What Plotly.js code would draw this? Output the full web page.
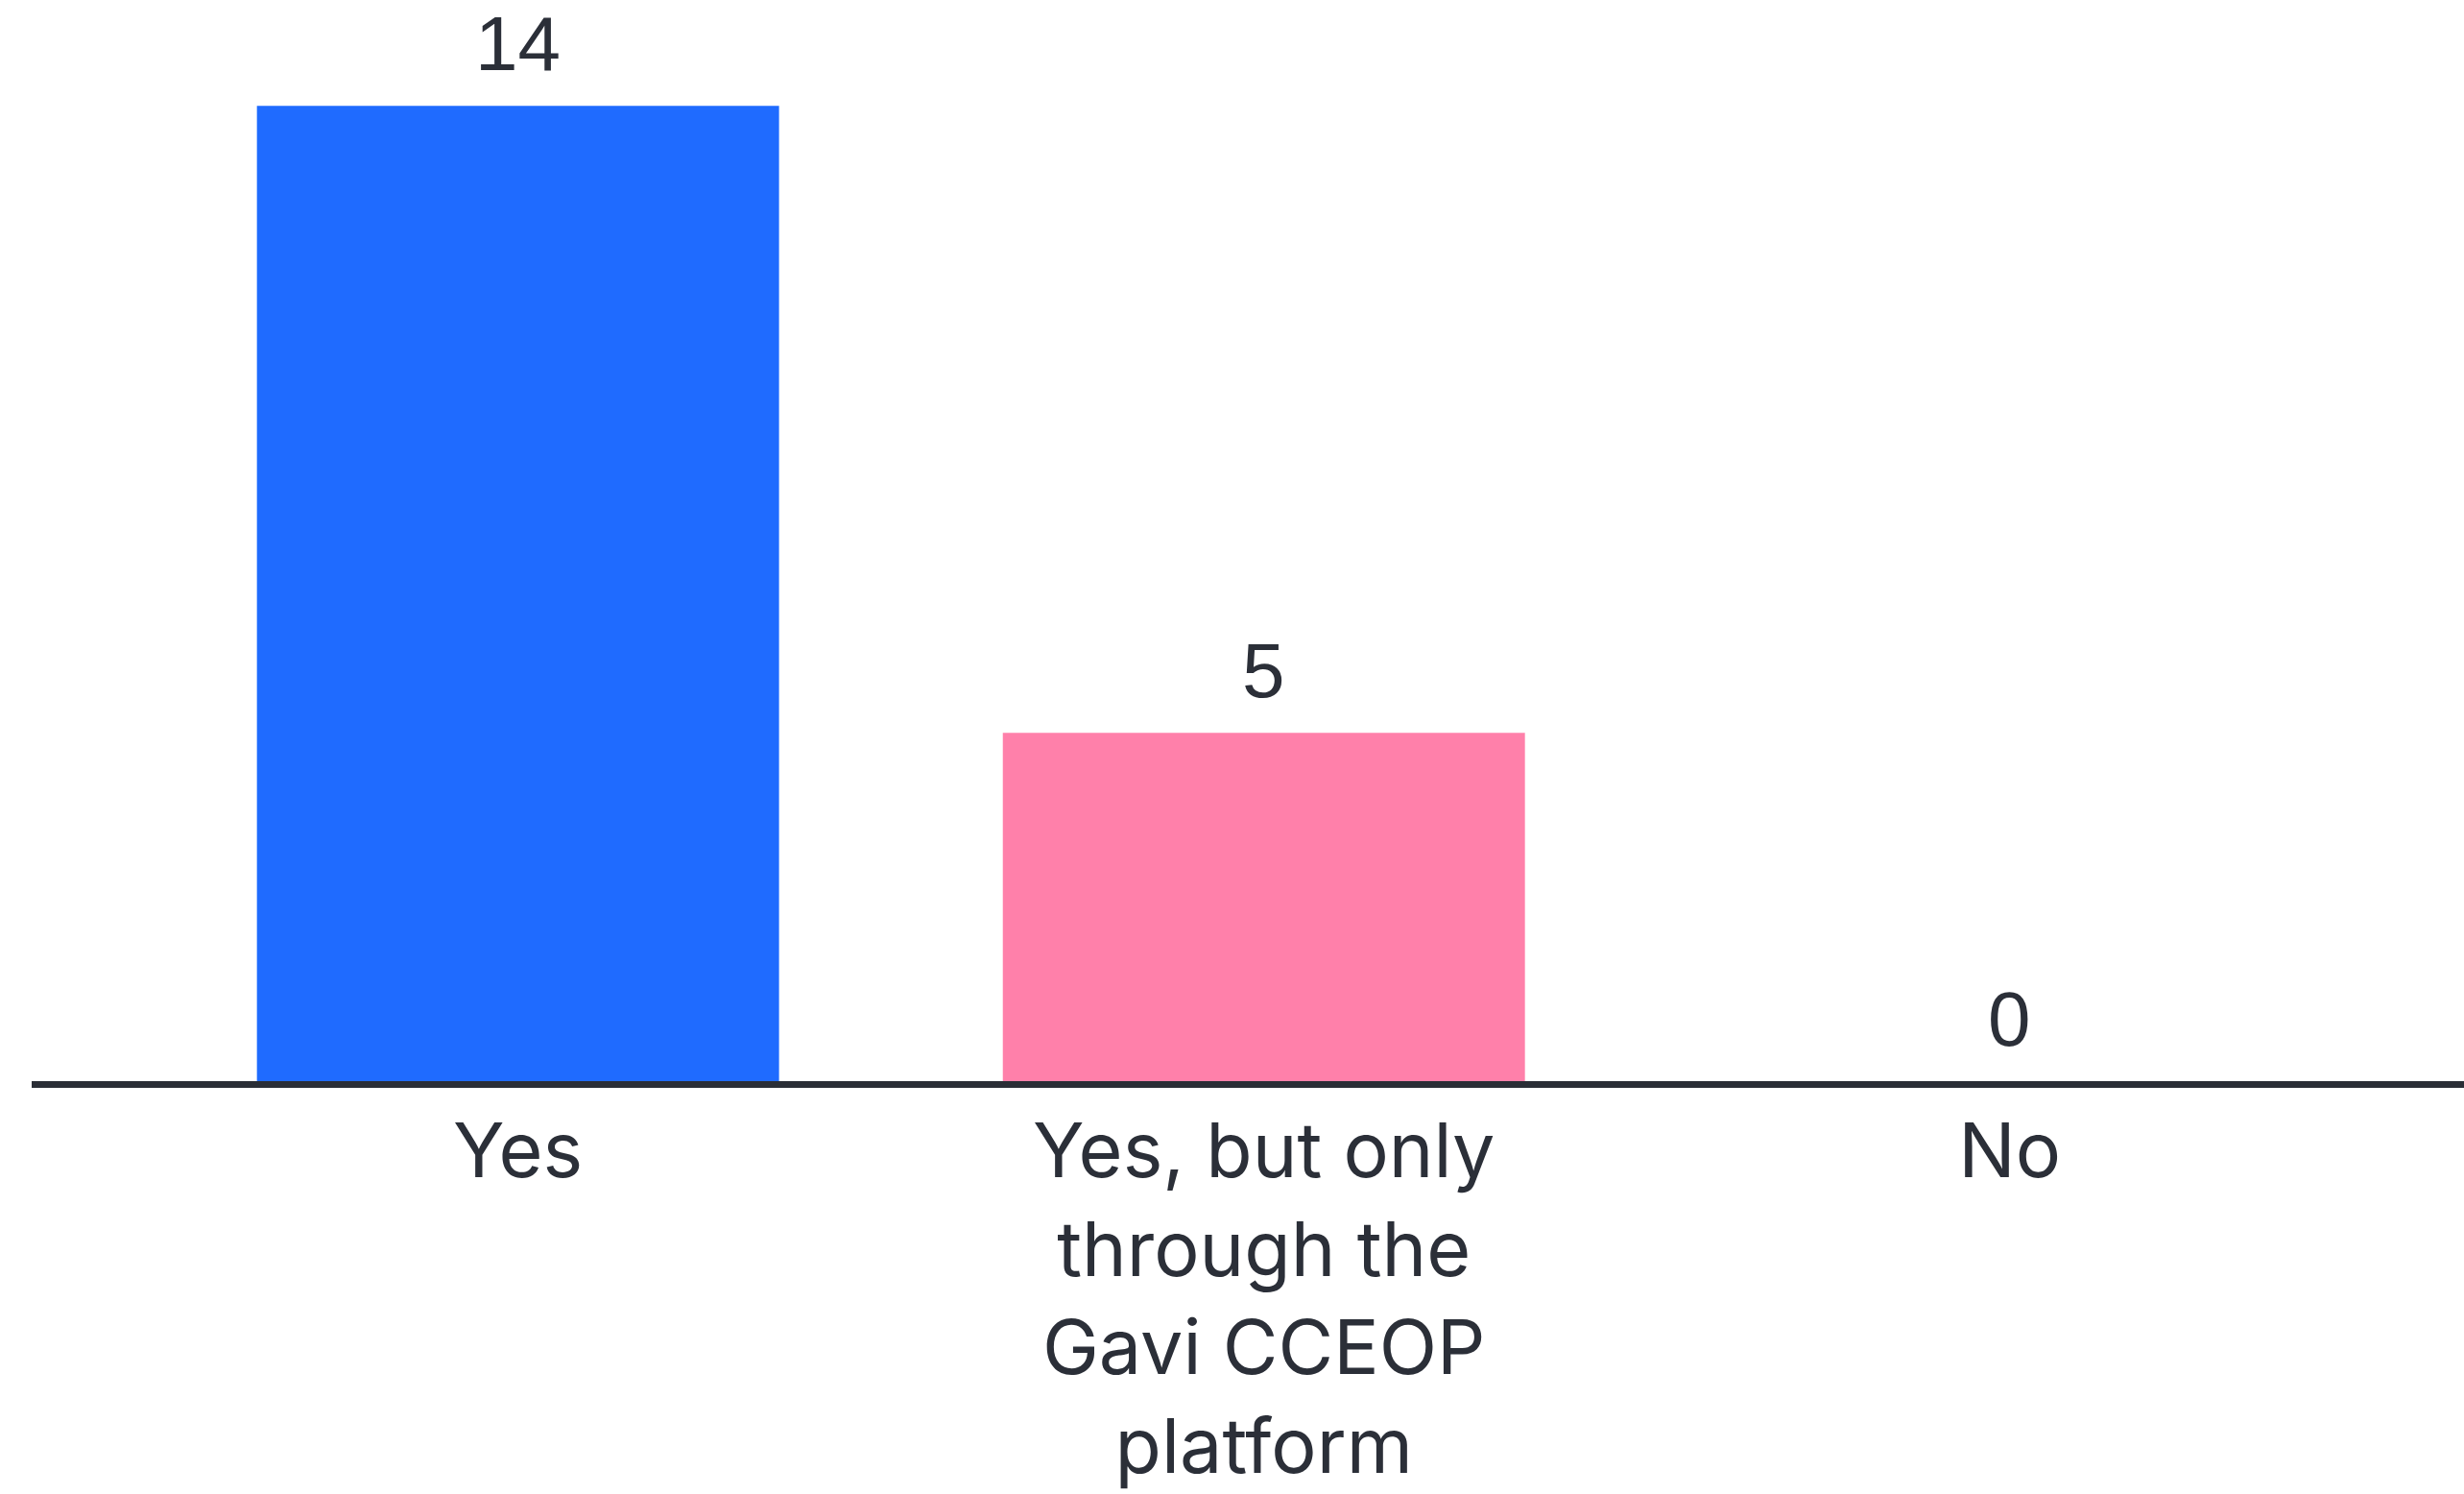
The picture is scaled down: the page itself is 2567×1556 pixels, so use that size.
<!DOCTYPE html>
<html>
<head>
<meta charset="utf-8">
<script src="https://cdn.plot.ly/plotly-3.0.1.min.js"></script>
<style>html,body{margin:0;padding:0;background:#fff;}#chart{width:2567px;height:1556px;}</style>
</head>
<body>
<div id="chart"></div>
<script>
const categories = ["Yes", "Yes, but only<br>through the<br>Gavi CCEOP<br>platform", "No"];
const values = [14, 5, 0];
const barColors = ["#1f6bff", "#ff80aa", "#ffffff"];

const textColor = "#2b2f38";

const trace = {
  type: "bar",
  x: categories,
  y: values,
  marker: {color: barColors, line: {width: 0}},
  width: 0.7,
  hoverinfo: "skip"
};

const annotations = categories.map((c, i) => ({
  x: c, y: values[i], xref: "x", yref: "y",
  text: String(values[i]),
  showarrow: false, yanchor: "bottom", yshift: 18,
  font: {family: "Liberation Sans, Arial, sans-serif", size: 80, color: textColor}
}));

const layout = {
  width: 2567, height: 1556,
  margin: {l: 33, r: 0, t: 0, b: 430},
  paper_bgcolor: "#ffffff", plot_bgcolor: "#ffffff",
  showlegend: false,
  xaxis: {
    type: "category",
    range: [-0.652, 2.609],
    showline: true, linecolor: "#2a2e36", linewidth: 7,
    showgrid: false, zeroline: false, ticks: "",
    ticklabelstandoff: -2,
    tickfont: {family: "Inter, Lato, sans-serif", size: 79, color: textColor},
    fixedrange: true
  },
  yaxis: {
    range: [0, 15.52],
    showline: false, showgrid: false, zeroline: false, showticklabels: false, ticks: "",
    fixedrange: true
  },
  annotations: annotations
};

Plotly.newPlot("chart", [trace], layout, {staticPlot: true, displayModeBar: false});
</script>
</body>
</html>
